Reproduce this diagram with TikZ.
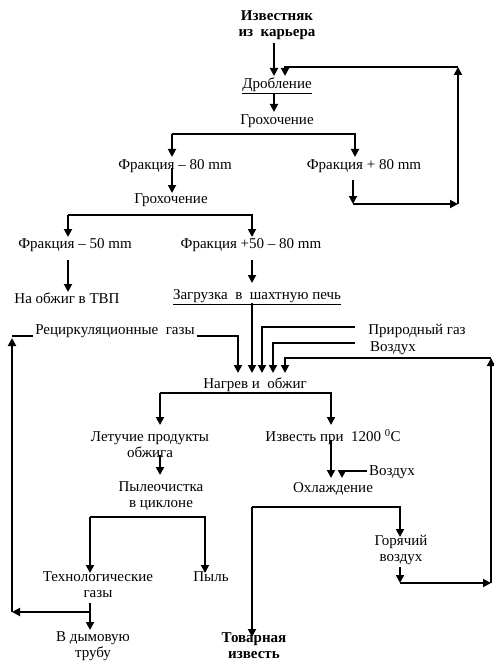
\documentclass[tikz,border=0pt]{standalone}
\usepackage{fontspec}
\setmainfont{Liberation Serif}
\usetikzlibrary{arrows.meta}
\begin{document}
\begin{tikzpicture}[x=1pt,y=-1pt,
  lbl/.style={font=\fontsize{15}{16}\selectfont, inner sep=0pt, align=center},
  blbl/.style={lbl, font=\fontsize{15}{16}\selectfont\bfseries},
  arr/.style={line width=1.8pt, -{Triangle[length=8pt,width=8pt]}},
  ln/.style={line width=1.8pt}]
\useasboundingbox (0,0) rectangle (493,663);

% nodes
\node[blbl] (izv) at (277,25) {Известняк\\из\ \ карьера};
\node[lbl] (drob) at (277,86) {\underline{Дробление}};
\node[lbl] (groh1) at (277,121) {Грохочение};
\node[lbl] (fm80) at (175,166) {Фракция – 80 mm};
\node[lbl] (fp80) at (364,166) {Фракция + 80 mm};
\node[lbl] (groh2) at (171,200) {Грохочение};
\node[lbl] (fm50) at (75,245) {Фракция – 50 mm};
\node[lbl] (f5080) at (251,245) {Фракция +50 – 80 mm};
\node[lbl] (tvp) at (67,298) {На обжиг в ТВП};
\node[lbl] (zagr) at (257,297) {\underline{Загрузка\ \ в\ \ шахтную печь}};
\node[lbl] (recg) at (115,331) {Рециркуляционные\ \ газы};
\node[lbl] (prir) at (417,331) {Природный газ};
\node[lbl] (vozd1) at (393,348) {Воздух};
\node[lbl] (nagr) at (255,385) {Нагрев и\ \ обжиг};
\node[lbl] (let) at (150,445) {Летучие продукты\\обжига};
\node[lbl] (izv1200) at (333,437) {Известь при\ \ 1200 \textsuperscript{0}C};
\node[lbl] (pyl) at (161,496) {Пылеочистка\\в циклоне};
\node[lbl] (vozd2) at (392,472) {Воздух};
\node[lbl] (ohl) at (333,489) {Охлаждение};
\node[lbl] (gor) at (401,550) {Горячий\\воздух};
\node[lbl] (tech) at (98,585) {Технологические\\газы};
\node[lbl] (pyl2) at (211,577) {Пыль};
\node[lbl] (dym) at (93,646) {В дымовую\\трубу};
\node[blbl] (tov) at (254,646) {Товарная\\известь};

% named points
\coordinate (c1) at (458,204);
\coordinate (c2) at (458,67);
\coordinate (c3) at (353,204);
\coordinate (L1) at (12,612);
\coordinate (L2) at (12,336);
\coordinate (R1) at (491,583);
\coordinate (R2) at (491,358);

% connectors
\draw[arr] (274,43) -- (274,76);
\draw[arr] (353,180) -- (c3);
\draw[arr] (c3) -- (c1);
\draw[arr] (c1) -- (c2);
\draw[arr] (c2) -- (285,67) -- (285,76);
\draw[arr] (274,94) -- (274,112);
\draw[arr] (172,134) -- (172,157);
\draw[arr] (172,134) -- (355,134) -- (355,157);
\draw[arr] (172,168) -- (172,193);
\draw[arr] (68,215) -- (68,237);
\draw[arr] (68,215) -- (252,215) -- (252,237);
\draw[arr] (68,260) -- (68,292);
\draw[arr] (252,260) -- (252,283);
\draw[arr] (252,303) -- (252,373);
% recirculation
\draw[arr] (90,612) -- (L1);
\draw[arr] (L1) -- (12,338);
\draw[ln] (L2) -- (33,336);
\draw[arr] (197,336) -- (238,336) -- (238,373);
\draw[arr] (355,327) -- (262,327) -- (262,373);
\draw[arr] (355,343) -- (273,343) -- (273,373);
% hot air return
\draw[arr] (400,567) -- (400,583);
\draw[arr] (400,583) -- (R1);
\draw[arr] (R1) -- (R2);
\draw[arr] (R2) -- (285,358) -- (285,373);
% after firing
\draw[arr] (160,393) -- (160,425);
\draw[arr] (160,393) -- (331,393) -- (331,425);
\draw[arr] (160,455) -- (160,475);
\draw[arr] (331,440) -- (331,478);
\draw[arr] (367,471) -- (342,471) -- (342,478);
\draw[arr] (252,507) -- (252,637);
\draw[arr] (252,507) -- (400,507) -- (400,537);
\draw[arr] (90,517) -- (90,573);
\draw[arr] (90,517) -- (205,517) -- (205,573);
\draw[arr] (90,603) -- (90,630);
\end{tikzpicture}
\end{document}
